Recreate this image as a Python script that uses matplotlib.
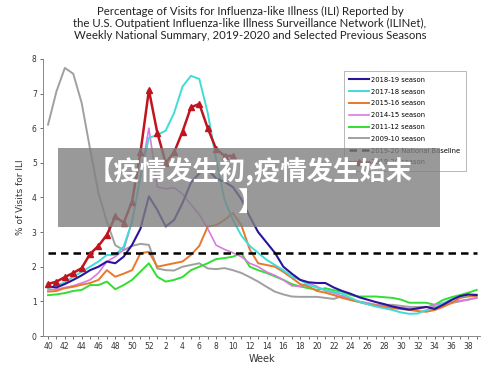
import numpy as np
import matplotlib
matplotlib.use("Agg")
import matplotlib.pyplot as plt
from matplotlib.patches import Rectangle

# weeks 40..52 then 1..39
weeks = list(range(40, 53)) + list(range(1, 40))

s2019_20 = [1.5, 1.57, 1.7, 1.82, 1.96, 2.37, 2.6, 2.92, 3.45, 3.27, 3.88, 5.3,
            7.1, 5.87, 5.0, 5.3, 5.9, 6.6, 6.7, 6.0, 5.4, 5.2, 5.2]

s2018_19 = [1.43, 1.40, 1.5, 1.62, 1.75, 1.9, 2.0, 2.15, 2.1, 2.29, 2.63, 3.1,
            4.03, 3.64, 3.16, 3.35, 3.84, 4.42, 4.7, 4.8, 4.55, 4.45, 4.3, 3.95,
            3.45, 3.0, 2.7, 2.4, 2.0, 1.8, 1.62, 1.55, 1.53, 1.53, 1.4, 1.3,
            1.22, 1.12, 1.05, 0.98, 0.92, 0.85, 0.8, 0.76, 0.8, 0.84, 0.78, 0.9,
            1.04, 1.15, 1.2, 1.18]

s2017_18 = [1.38, 1.45, 1.55, 1.71, 1.85, 2.0, 2.15, 2.34, 2.34, 2.58, 3.3, 4.6,
            5.72, 5.8, 5.93, 6.44, 7.2, 7.51, 7.42, 6.44, 5.1, 3.93, 3.35, 2.9,
            2.6, 2.4, 2.2, 2.05, 1.9, 1.72, 1.62, 1.47, 1.4, 1.33, 1.27, 1.22,
            1.1, 0.99, 0.92, 0.85, 0.8, 0.75, 0.68, 0.64, 0.65, 0.75, 0.8, 0.95,
            1.05, 1.15, 1.18, 1.2]

s2015_16 = [1.28, 1.3, 1.38, 1.42, 1.48, 1.53, 1.62, 1.9, 1.71, 1.8, 1.9, 2.39,
            2.43, 2.0, 2.05, 2.1, 2.15, 2.34, 2.6, 3.16, 3.2, 3.35, 3.55, 3.2,
            2.5, 2.1, 2.05, 2.0, 1.85, 1.68, 1.5, 1.43, 1.3, 1.25, 1.18, 1.1,
            1.04, 0.98, 0.92, 0.88, 0.84, 0.8, 0.78, 0.75, 0.72, 0.7, 0.75, 0.84,
            0.95, 1.1, 1.14, 1.16]

s2014_15 = [1.33, 1.35, 1.4, 1.45, 1.53, 1.62, 1.82, 2.15, 2.29, 2.49, 3.3, 4.6,
            6.0, 4.3, 4.25, 4.28, 4.1, 3.8, 3.5, 3.1, 2.62, 2.5, 2.4, 2.29,
            2.1, 2.0, 1.85, 1.75, 1.62, 1.45, 1.43, 1.53, 1.43, 1.3, 1.24, 1.15,
            1.04, 1.0, 0.95, 0.9, 0.87, 0.85, 0.82, 0.8, 0.78, 0.83, 0.9, 0.95,
            0.99, 1.02, 1.05, 1.1]

s2011_12 = [1.18, 1.2, 1.24, 1.3, 1.33, 1.47, 1.47, 1.57, 1.35, 1.47, 1.62, 1.86,
            2.1, 1.71, 1.57, 1.62, 1.7, 1.9, 2.0, 2.1, 2.22, 2.25, 2.29, 2.39,
            2.0, 1.9, 1.82, 1.72, 1.62, 1.5, 1.43, 1.38, 1.33, 1.38, 1.32, 1.28,
            1.18, 1.14, 1.14, 1.14, 1.12, 1.1, 1.05, 0.96, 0.96, 0.96, 0.9, 1.04,
            1.12, 1.18, 1.25, 1.33]

s2009_10 = [6.1, 7.06, 7.74, 7.57, 6.73, 5.4, 4.13, 3.3, 2.62, 2.48, 2.6, 2.66,
            2.63, 1.95, 1.9, 1.89, 2.0, 2.05, 2.1, 1.95, 1.93, 1.96, 1.9, 1.82,
            1.7, 1.57, 1.42, 1.28, 1.2, 1.14, 1.13, 1.13, 1.13, 1.1, 1.07, 1.16,
            1.05, 0.99, 0.95, 0.9, 0.9, 0.9, 0.87, 0.84, 0.84, 0.84, 0.84, 0.9,
            0.95, 1.0, 1.05, 1.1]

baseline = 2.4

fig = plt.figure(figsize=(5, 3.75), dpi=100)
ax = fig.add_axes([0.086, 0.104, 0.874, 0.739])

x = np.arange(len(weeks))

ax.plot(x[:len(s2009_10)], s2009_10, color="#a0a0a0", lw=1.4, label="2009-10 season")
ax.plot(x, s2011_12, color="#33dd33", lw=1.4, label="2011-12 season")
ax.plot(x, s2014_15, color="#da7ae0", lw=1.2, label="2014-15 season")
ax.plot(x, s2015_16, color="#e8782a", lw=1.4, label="2015-16 season")
ax.plot(x, s2017_18, color="#40dcd6", lw=1.4, label="2017-18 season")
ax.plot(x, s2018_19, color="#2a149c", lw=1.5, label="2018-19 season")
ax.plot(x, [baseline] * len(x), color="black", lw=1.8, ls=(0, (3, 2)),
        label="2019-20 National Baseline")
ax.plot(x[:len(s2019_20)], s2019_20, color="#c0141e", lw=1.8, marker="^", ms=4,
        label="2019-20 season")

ax.set_xlim(-0.6, 51.4)
ax.set_ylim(0, 8)
ax.set_yticks(range(0, 9))
ax.set_xticks(x)
ax.set_xticklabels([str(w) if i % 2 == 0 else "" for i, w in enumerate(weeks)])
ax.tick_params(axis="both", labelsize=5.5, length=2.5, width=0.6, colors="#555555",
               labelcolor="#333333", pad=2)
for side in ["top", "right"]:
    ax.spines[side].set_visible(False)
for side in ["left", "bottom"]:
    ax.spines[side].set_color("#888888")
    ax.spines[side].set_linewidth(0.7)
ax.set_xlabel("Week", fontsize=7, color="#333333", labelpad=2)
ax.set_ylabel("% of Visits for ILI", fontsize=6.5, color="#333333", labelpad=5)

h, l = ax.get_legend_handles_labels()
order = [5, 4, 3, 2, 1, 0, 6, 7]
leg = ax.legend([h[k] for k in order], [l[k] for k in order], loc="upper right",
                bbox_to_anchor=(0.975, 0.967), fontsize=4.9, handlelength=2.9,
                labelspacing=0.85, fancybox=False, edgecolor="#999999",
                borderpad=0.8, handletextpad=0.3)
leg.get_frame().set_linewidth(0.6)

fig.text(0.5, 0.985, "Percentage of Visits for Influenza-like Illness (ILI) Reported by\n"
         "the U.S. Outpatient Influenza-like Illness Surveillance Network (ILINet),\n"
         "Weekly National Summary, 2019-2020 and Selected Previous Seasons",
         ha="center", va="top", fontsize=8.2, family="Lato", color="#222222",
         linespacing=1.15)

# overlay banner
fig.patches.append(Rectangle((0.116, 0.395), 0.764, 0.211, transform=fig.transFigure,
                             facecolor="#808080", alpha=0.8, edgecolor="none", zorder=5))
fig.text(0.5, 0.5, "【疫情发生初,疫情发生始末\n】", ha="center", va="center",
         multialignment="center", fontsize=19, fontweight="bold", color="white",
         family=["Noto Sans CJK SC", "DejaVu Sans"], zorder=6)

fig.savefig("out.png", dpi=100)
